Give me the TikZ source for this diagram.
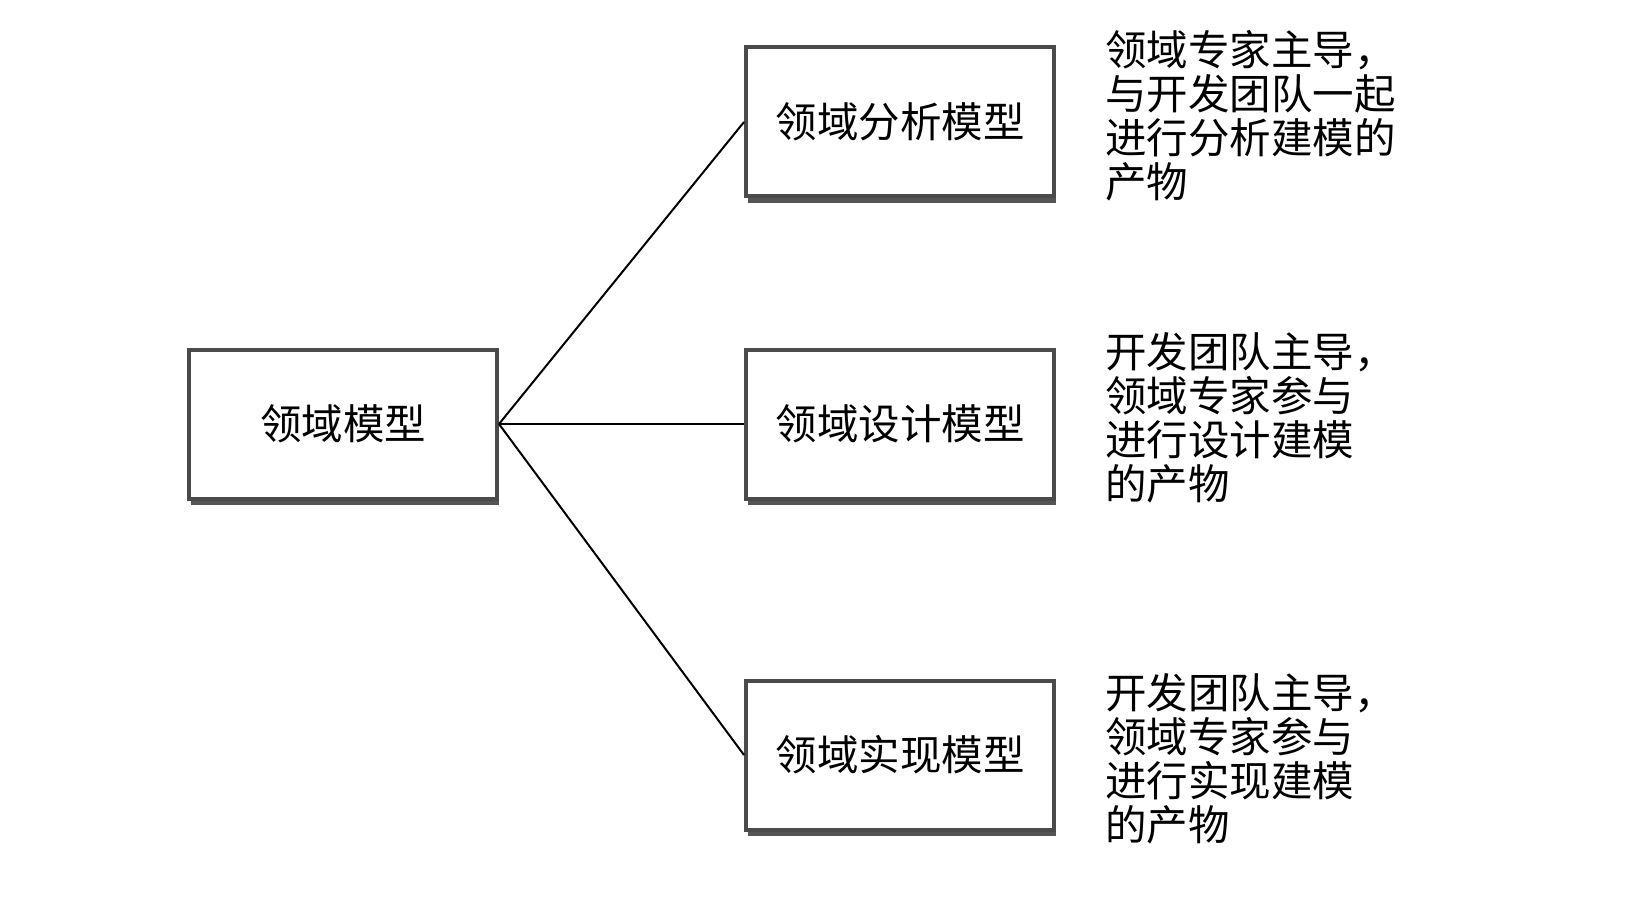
\documentclass[tikz,border=0pt]{standalone}
\usepackage{fontspec}
\newfontfamily\cjk{Noto Sans CJK SC}
\usetikzlibrary{shadows}
\definecolor{boxgray}{HTML}{4A4A4A}
\definecolor{shadowgray}{HTML}{555555}
\tikzset{
  mbox/.style={draw=boxgray, line width=4pt, fill=white, minimum width=308pt, minimum height=149pt, inner sep=0pt,
    font=\cjk\fontsize{41.5}{44}\selectfont,
    drop shadow={shadow xshift=1.5pt, shadow yshift=-6.5pt, fill=shadowgray, opacity=1}},
  note/.style={anchor=north west, align=left, inner sep=0pt, font=\cjk\fontsize{41.5}{44}\selectfont},
  link/.style={draw=black, line width=2pt}
}
\begin{document}
\begin{tikzpicture}[x=1pt, y=-1pt]
\useasboundingbox[fill=white] (0,0) rectangle (1644,920);
\node[mbox] (root) at (343,424) {领域模型};
\node[mbox] (ana) at (900,122) {领域分析模型};
\node[mbox] (des) at (900,424) {领域设计模型};
\node[mbox] (imp) at (900,755) {领域实现模型};
\draw[link] (root.east) -- (ana.west);
\draw[link] (root.east) -- (des.west);
\draw[link] (root.east) -- (imp.west);
\node[note] (t1) at (1105,30) {领域专家主导，\\与开发团队一起\\进行分析建模的\\产物};
\node[note] (t2) at (1105,332) {开发团队主导，\\领域专家参与\\进行设计建模\\的产物};
\node[note] (t3) at (1105,673) {开发团队主导，\\领域专家参与\\进行实现建模\\的产物};
\end{tikzpicture}
\end{document}
